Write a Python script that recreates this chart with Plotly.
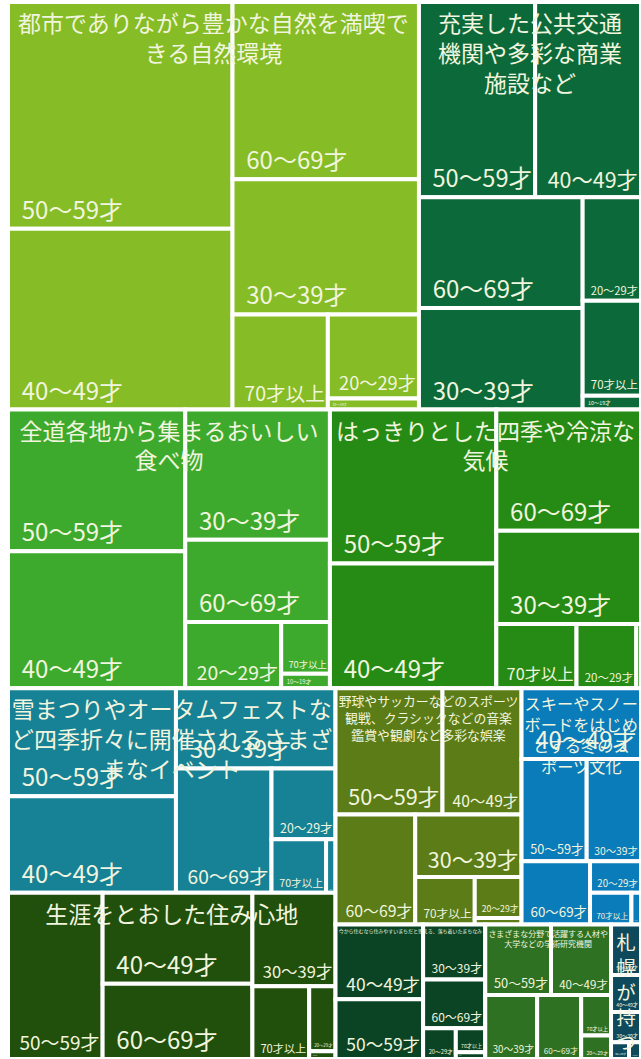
import plotly.graph_objects as go

# Age groups (leaf level of every category)
age_groups = ["20～29才", "30～39才", "40～49才", "50～59才", "60～69才", "70才以上", "10～19才"]

# Top-level categories
categories = [
    "都市でありながら豊かな自然を満喫できる自然環境",
    "充実した公共交通機関や多彩な商業施設など",
    "全道各地から集まるおいしい食べ物",
    "はっきりとした四季や冷涼な気候",
    "雪まつりやオータムフェストなど四季折々に開催されるさまざまなイベント",
    "生涯をとおした住み心地",
    "野球やサッカーなどのスポーツ観戦、クラシックなどの音楽鑑賞や観劇など多彩な娯楽",
    "スキーやスノーボードをはじめとする冬のスポーツ文化",
    "今から住むなら住みやすいまちだと思える、落ち着いたまちなみ",
    "さまざまな分野で活躍する人材や大学などの学術研究機関",
    "札幌が持つ都市としての知名度やブランド力",
]

# Titles as displayed (line breaks)
category_titles = [
    "都市でありながら豊かな自然を満喫で<br>きる自然環境",
    "充実した公共交通<br>機関や多彩な商業<br>施設など",
    "全道各地から集まるおいしい<br>食べ物",
    "はっきりとした四季や冷涼な<br>気候",
    "雪まつりやオータムフェストな<br>ど四季折々に開催されるさまざ<br>まなイベント",
    "生涯をとおした住み心地",
    "野球やサッカーなどのスポーツ<br>観戦、クラシックなどの音楽<br>鑑賞や観劇など多彩な娯楽",
    "スキーやスノー<br>ボードをはじめ<br>とする冬のス<br>ポーツ文化",
    "今から住むなら住みやすいまちだと思える、落ち着いたまちなみ",
    "さまざまな分野で活躍する人材や<br>大学などの学術研究機関",
    "札<br>幌<br>が<br>持<br>つ",
]

# Responses per age group, same order as age_groups
vals_nature = [76, 250, 403, 505, 328, 90, 10]
vals_transport = [60, 165, 205, 225, 180, 55, 8]
vals_food = [63, 187, 241, 249, 118, 25, 7]
vals_climate = [38, 134, 206, 254, 174, 51, 3]
vals_events = [45, 127, 161, 180, 118, 29, 5]
vals_living = [17, 77, 135, 156, 112, 41, 2]
vals_entertainment = [19, 66, 99, 134, 87, 28, 3]
vals_winter = [16, 55, 84, 66, 43, 13, 3]
vals_townscape = [10, 34, 65, 52, 30, 7, 2]
vals_research = [7, 33, 42, 46, 28, 12, 0]
vals_brand = [2, 9, 11, 15, 3, 0, 0]

series = [
    vals_nature, vals_transport, vals_food, vals_climate, vals_events, vals_living,
    vals_entertainment, vals_winter, vals_townscape, vals_research, vals_brand,
]

colors = [
    "#86BC25", "#0C6A3A", "#3DAA2D", "#258B15", "#178195", "#214F0C",
    "#5C7C17", "#0B7CBA", "#0B4425", "#2F7122", "#0E495C",
]

TEXT = "#F1F5DF"
FONT = "Noto Sans CJK JP"
INSET = "\u00a0\u00a0"

ids, labels, parents, values, texts, node_colors = [], [], [], [], [], []
for i, (cat, vals, col) in enumerate(zip(categories, series, colors)):
    ids.append(f"c{i}")
    labels.append(cat)
    parents.append("")
    values.append(0)
    texts.append("")
    node_colors.append(col)
    for j, (age, v) in enumerate(zip(age_groups, vals)):
        if v <= 0:
            continue
        ids.append(f"c{i}-{j}")
        labels.append(age)
        parents.append(f"c{i}")
        values.append(v)
        texts.append(INSET + age)
        node_colors.append(col)

totals = [sum(v) for v in series]

fig = go.Figure()

# Cells: categories split by age group
fig.add_trace(go.Treemap(
    ids=ids,
    labels=labels,
    parents=parents,
    values=values,
    branchvalues="remainder",
    sort=True,
    text=texts,
    textinfo="text",
    textposition="bottom left",
    textfont=dict(family=FONT, size=24, color=TEXT),
    marker=dict(colors=node_colors, line=dict(color="white", width=4),
                pad=dict(t=0, l=0, r=0, b=0)),
    tiling=dict(packing="squarify", pad=0),
    pathbar=dict(visible=False),
    hoverinfo="label+value",
))

# Category titles drawn over their cells
fig.add_trace(go.Treemap(
    ids=[f"t{i}" for i in range(len(categories))],
    labels=category_titles,
    parents=[""] * len(categories),
    values=totals,
    sort=True,
    textinfo="label",
    textposition="top center",
    textfont=dict(family=FONT, size=23, color=TEXT),
    marker=dict(colors=["rgba(0,0,0,0)"] * len(categories), line=dict(width=0),
                pad=dict(t=0, l=0, r=0, b=0)),
    tiling=dict(packing="squarify", pad=0),
    pathbar=dict(visible=False),
    hoverinfo="skip",
))

fig.update_layout(
    width=641,
    height=1059,
    margin=dict(l=8, r=0, t=2, b=0),
    paper_bgcolor="white",
    font=dict(family=FONT),
    showlegend=False,
)

fig.write_html("out.html")
